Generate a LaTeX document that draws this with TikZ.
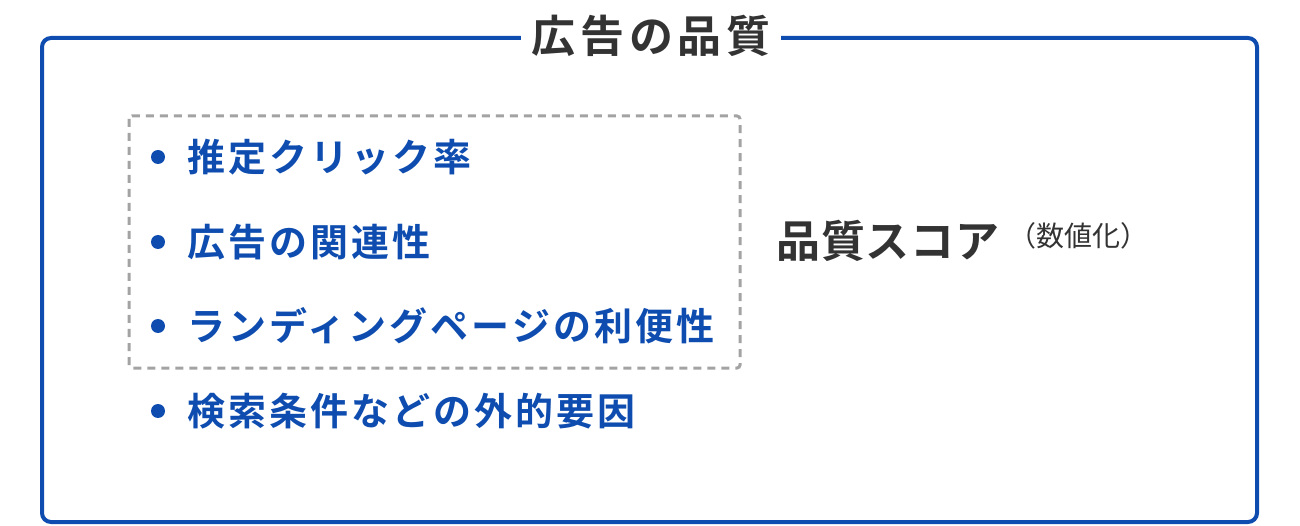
\documentclass[tikz,border=0pt]{standalone}
\usepackage{fontspec}
\setmainfont{Noto Sans CJK JP}[BoldFont={Noto Sans CJK JP Bold}]
\usepackage{tikz}
\usetikzlibrary{positioning}
\definecolor{bleu}{HTML}{0E4DAF}
\definecolor{gris}{HTML}{A3A3A3}
\definecolor{noir}{HTML}{333333}

\tikzset{
  puce/.style={circle,fill=bleu,inner sep=0pt,minimum size=14pt},
  item/.style={anchor=west,inner sep=0pt,text=bleu,
    font=\fontsize{38pt}{42pt}\selectfont\bfseries\addfontfeatures{LetterSpace=8}}
}

\begin{document}
\begin{tikzpicture}[x=1pt,y=-1pt]
\useasboundingbox (0,0) rectangle (1300,526);
% cadre
\draw[bleu,line width=4pt,rounded corners=9pt] (42,38) rectangle (1257,522);
% titre
\node[fill=white,inner xsep=10pt,inner ysep=2pt,text=noir,
  font=\fontsize{44pt}{50pt}\selectfont\bfseries\addfontfeatures{LetterSpace=11}]
  (titre) at (651,36) {広告の品質};
% pointilles
\draw[gris,line width=3pt,dash pattern=on 8pt off 6pt,rounded corners=3pt]
  (129,116) rectangle (740,368);
% liste
\foreach \y/\nom/\txt in {157/un/推定クリック率,242/deux/広告の関連性,
    326/trois/ランディングページの利便性,411/quatre/検索条件などの外的要因}
{
  \node[puce] (p\nom) at (158,\y) {};
  \node[item] (t\nom) at (187,\y) {\txt};
}
% score
\node[anchor=west,inner sep=0pt,text=noir,
  font=\fontsize{44pt}{50pt}\selectfont\bfseries\addfontfeatures{LetterSpace=2}]
  (score) at (776,241) {品質スコア};
\node[anchor=west,inner sep=0pt,text=noir,font=\fontsize{28pt}{32pt}\selectfont,
  right=8pt of score,yshift=5pt] (num) {（数値化）};
\end{tikzpicture}
\end{document}
